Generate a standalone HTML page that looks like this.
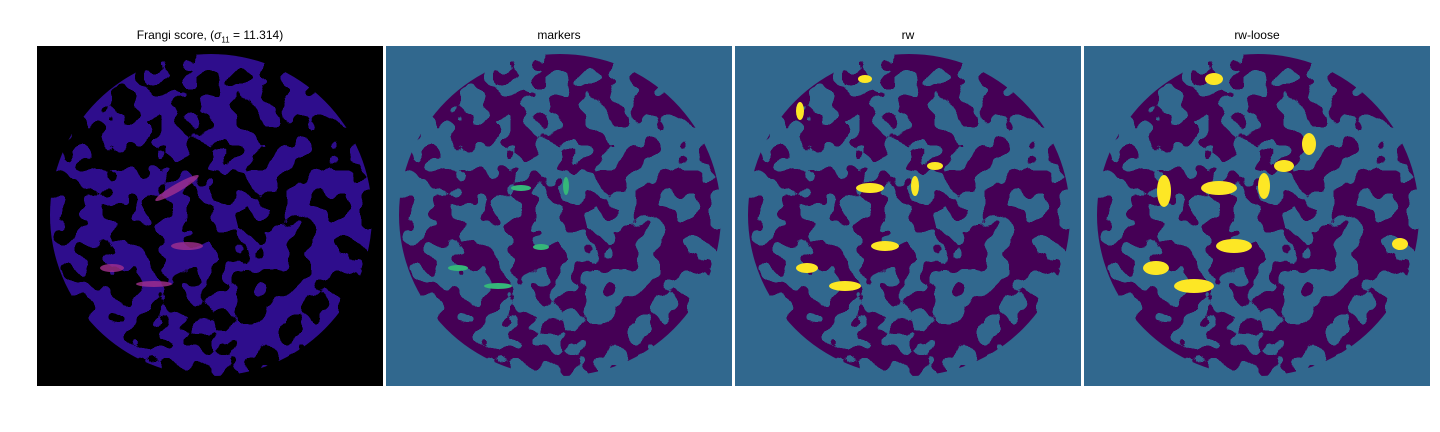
<!DOCTYPE html>
<html><head><meta charset="utf-8"><style>
body{margin:0;width:1440px;height:432px;background:#fff;overflow:hidden;font-family:"Liberation Sans","DejaVu Sans",sans-serif}
.t{position:absolute;top:28px;font-size:12px;text-align:center;width:346px;color:#000}
svg{position:absolute;left:0;top:0}
</style></head><body>
<div class="t" style="left:37px">Frangi score, (<i>σ</i><sub style="font-size:8px">11</sub> = 11.314)</div>
<div class="t" style="left:386px">markers</div>
<div class="t" style="left:735px">rw</div>
<div class="t" style="left:1084px">rw-loose</div>
<svg width="1440" height="432">
<defs>
<filter id="blob" x="0" y="0" width="1" height="1" filterUnits="objectBoundingBox">
<feTurbulence type="fractalNoise" baseFrequency="0.04" numOctaves="2" seed="7" result="n"/>
<feColorMatrix in="n" type="matrix" values="0 0 0 0 0 0 0 0 0 0 0 0 0 0 0 1 0 0 0 0" result="a"/>
<feComponentTransfer in="a" result="th"><feFuncA type="discrete" tableValues="0 0 0 0 0 1 1 1 1 1"/></feComponentTransfer>
<feFlood flood-color="#440154" result="c"/>
<feComposite in="c" in2="th" operator="in" result="b"/>
<feComposite in="b" in2="SourceGraphic" operator="in"/>
</filter>
<filter id="blob1" x="0" y="0" width="1" height="1" filterUnits="objectBoundingBox">
<feTurbulence type="fractalNoise" baseFrequency="0.04" numOctaves="2" seed="7" result="n"/>
<feColorMatrix in="n" type="matrix" values="0 0 0 0 0 0 0 0 0 0 0 0 0 0 0 1 0 0 0 0" result="a"/>
<feComponentTransfer in="a" result="th"><feFuncA type="discrete" tableValues="0 0 0 0 0 1 1 1 1 1"/></feComponentTransfer>
<feFlood flood-color="#2e0b8c" result="c"/>
<feComposite in="c" in2="th" operator="in" result="b"/>
<feComposite in="b" in2="SourceGraphic" operator="in"/>
</filter>
</defs>
<g transform="translate(37,46)">
<rect width="346" height="340" fill="#000"/>
<ellipse cx="174" cy="169" rx="161" ry="161" fill="#fff" filter="url(#blob1)"/>
<g fill="#a2308f" opacity="0.8">
<ellipse cx="140" cy="142" rx="25" ry="4" transform="rotate(-30 140 142)"/>
<ellipse cx="75" cy="222" rx="12" ry="4"/>
<ellipse cx="117" cy="238" rx="18" ry="3"/>
<ellipse cx="150" cy="200" rx="16" ry="4"/>
</g>
</g>
<g transform="translate(386,46)">
<rect width="346" height="340" fill="#31688e"/>
<ellipse cx="174" cy="169" rx="161" ry="161" fill="#fff" filter="url(#blob)"/>
<g fill="#35b779"><ellipse cx="135" cy="142" rx="10" ry="3"/><ellipse cx="72" cy="222" rx="10" ry="3"/><ellipse cx="112" cy="240" rx="14" ry="3"/><ellipse cx="155" cy="201" rx="8" ry="3"/><ellipse cx="180" cy="140" rx="3" ry="9"/></g>
</g>
<g transform="translate(735,46)">
<rect width="346" height="340" fill="#31688e"/>
<ellipse cx="174" cy="169" rx="161" ry="161" fill="#fff" filter="url(#blob)"/>
<g fill="#fde725"><ellipse cx="135" cy="142" rx="14" ry="5"/><ellipse cx="72" cy="222" rx="11" ry="5"/><ellipse cx="110" cy="240" rx="16" ry="5"/><ellipse cx="150" cy="200" rx="14" ry="5"/><ellipse cx="180" cy="140" rx="4" ry="10"/><ellipse cx="200" cy="120" rx="8" ry="4"/><ellipse cx="65" cy="65" rx="4" ry="9"/><ellipse cx="130" cy="33" rx="7" ry="4"/></g>
</g>
<g transform="translate(1084,46)">
<rect width="346" height="340" fill="#31688e"/>
<ellipse cx="174" cy="169" rx="161" ry="161" fill="#fff" filter="url(#blob)"/>
<g fill="#fde725"><ellipse cx="135" cy="142" rx="18" ry="7"/><ellipse cx="72" cy="222" rx="13" ry="7"/><ellipse cx="110" cy="240" rx="20" ry="7"/><ellipse cx="150" cy="200" rx="18" ry="7"/><ellipse cx="180" cy="140" rx="6" ry="13"/><ellipse cx="200" cy="120" rx="10" ry="6"/><ellipse cx="80" cy="145" rx="7" ry="16"/><ellipse cx="225" cy="98" rx="7" ry="11"/><ellipse cx="316" cy="198" rx="8" ry="6"/><ellipse cx="130" cy="33" rx="9" ry="6"/></g>
</g>
</svg>
</body></html>
